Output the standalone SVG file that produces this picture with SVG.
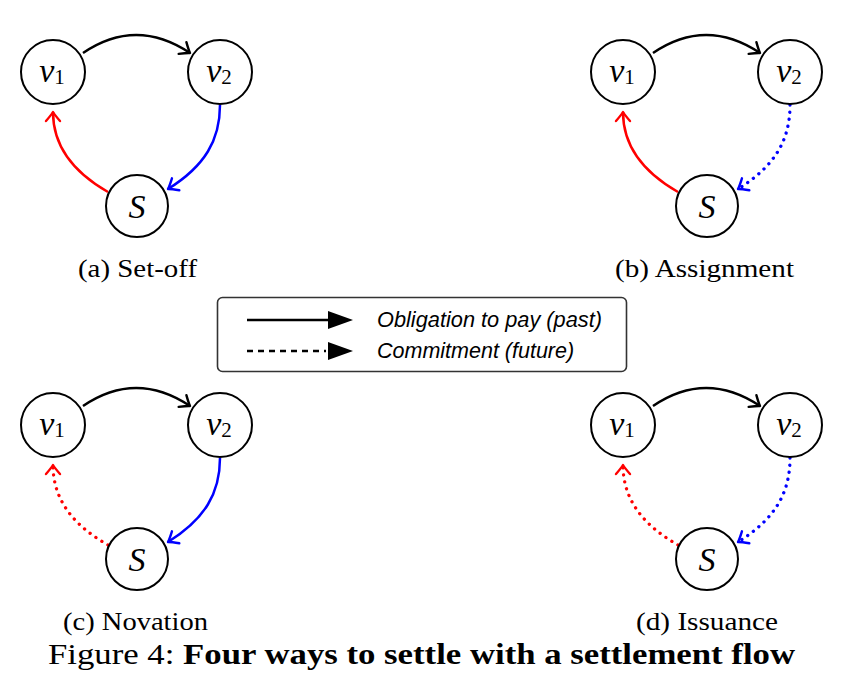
<svg xmlns="http://www.w3.org/2000/svg" width="844" height="696" viewBox="0 0 844 696">
<style>
.node circle{fill:#fff;stroke:#000;stroke-width:2}
.mv{font-family:"Liberation Serif",serif;font-style:italic;font-size:34px}
.sub{font-family:"Liberation Serif",serif;font-style:normal;font-size:21px}
.e{fill:none;stroke-width:2.5}
.dot{stroke-dasharray:0.1 7;stroke-linecap:round;stroke-width:3.3}
.k{stroke:#000}.r{stroke:#f00}.b{stroke:#00f}
.lbl{font-family:"Liberation Serif",serif;font-size:25px;fill:#000}
.leg{font-family:"Liberation Sans",Arial,sans-serif;font-style:italic;font-size:21.5px;fill:#000}
</style>
<defs>
<marker id="ak" markerUnits="userSpaceOnUse" viewBox="-12 -10 14 20" refX="0" refY="0" markerWidth="14" markerHeight="20" orient="auto" overflow="visible"><path d="M-9 -7 Q-3 -1.8 0 0 Q-3 1.8 -9 7" fill="none" stroke="#000" stroke-width="2.4" stroke-linecap="round" stroke-linejoin="round"/></marker>
<marker id="ar" markerUnits="userSpaceOnUse" viewBox="-12 -10 14 20" refX="0" refY="0" markerWidth="14" markerHeight="20" orient="auto" overflow="visible"><path d="M-9 -7 Q-3 -1.8 0 0 Q-3 1.8 -9 7" fill="none" stroke="#f00" stroke-width="2.4" stroke-linecap="round" stroke-linejoin="round"/></marker>
<marker id="ab" markerUnits="userSpaceOnUse" viewBox="-12 -10 14 20" refX="0" refY="0" markerWidth="14" markerHeight="20" orient="auto" overflow="visible"><path d="M-9 -7 Q-3 -1.8 0 0 Q-3 1.8 -9 7" fill="none" stroke="#00f" stroke-width="2.4" stroke-linecap="round" stroke-linejoin="round"/></marker>
</defs>
<rect width="844" height="696" fill="#fff"/>

<!-- connectors -->
<g id="connectors">
  <!-- (a) -->
  <path class="e k" d="M83 53 Q136 17 190 53" marker-end="url(#ak)"/>
  <path class="e b" d="M220 105 C220 140 205 166 168 189" marker-end="url(#ab)"/>
  <path class="e r" d="M108 192 C80 176 53 152 53 112" marker-end="url(#ar)"/>
  <!-- (b) -->
  <path class="e k" d="M653 53 Q706 17 760 53" marker-end="url(#ak)"/>
  <path class="e b dot" d="M790 105 C790 140 775 166 738 189" marker-end="url(#ab)"/>
  <path class="e r" d="M678 192 C650 176 623 152 623 112" marker-end="url(#ar)"/>
  <!-- (c) -->
  <path class="e k" d="M83 406 Q136 370 190 406" marker-end="url(#ak)"/>
  <path class="e b" d="M220 458 C220 493 205 519 168 542" marker-end="url(#ab)"/>
  <path class="e r dot" d="M108 545 C80 529 53 505 53 465" marker-end="url(#ar)"/>
  <!-- (d) -->
  <path class="e k" d="M653 406 Q706 370 760 406" marker-end="url(#ak)"/>
  <path class="e b dot" d="M790 458 C790 493 775 519 738 542" marker-end="url(#ab)"/>
  <path class="e r dot" d="M678 545 C650 529 623 505 623 465" marker-end="url(#ar)"/>
</g>

<!-- panel (a) -->
<g id="a-v1" class="node"><circle cx="53" cy="72" r="32"/><text x="52" y="82" text-anchor="middle"><tspan class="mv">v</tspan><tspan class="sub" dy="2">1</tspan></text></g>
<g id="a-v2" class="node"><circle cx="220" cy="72" r="32"/><text x="219" y="82" text-anchor="middle"><tspan class="mv">v</tspan><tspan class="sub" dy="2">2</tspan></text></g>
<g id="a-S" class="node"><circle cx="137" cy="206" r="31"/><text x="137" y="218" text-anchor="middle" class="mv">S</text></g>
<text class="lbl" x="137.5" y="277" text-anchor="middle" textLength="119" lengthAdjust="spacingAndGlyphs">(a) Set-off</text>

<!-- panel (b) -->
<g id="b-v1" class="node"><circle cx="623" cy="72" r="32"/><text x="622" y="82" text-anchor="middle"><tspan class="mv">v</tspan><tspan class="sub" dy="2">1</tspan></text></g>
<g id="b-v2" class="node"><circle cx="790" cy="72" r="32"/><text x="789" y="82" text-anchor="middle"><tspan class="mv">v</tspan><tspan class="sub" dy="2">2</tspan></text></g>
<g id="b-S" class="node"><circle cx="707" cy="206" r="31"/><text x="707" y="218" text-anchor="middle" class="mv">S</text></g>
<text class="lbl" x="704.5" y="277" text-anchor="middle" textLength="179" lengthAdjust="spacingAndGlyphs">(b) Assignment</text>

<!-- legend -->
<g id="legend">
  <rect x="217.5" y="297.5" width="409" height="74" rx="5" fill="#fff" stroke="#333" stroke-width="1.6"/>
  <line x1="247" y1="320" x2="330" y2="320" stroke="#000" stroke-width="2.5"/>
  <polygon points="328,311 353,320 328,329" fill="#000"/>
  <line x1="247" y1="351" x2="326" y2="351" stroke="#000" stroke-width="2.5" stroke-dasharray="6 5"/>
  <polygon points="328,342 353,351 328,360" fill="#000"/>
  <text class="leg" x="377" y="327" textLength="225" lengthAdjust="spacingAndGlyphs">Obligation to pay (past)</text>
  <text class="leg" x="377" y="358">Commitment (future)</text>
</g>

<!-- panel (c) -->
<g id="c-v1" class="node"><circle cx="53" cy="425" r="32"/><text x="52" y="435" text-anchor="middle"><tspan class="mv">v</tspan><tspan class="sub" dy="2">1</tspan></text></g>
<g id="c-v2" class="node"><circle cx="220" cy="425" r="32"/><text x="219" y="435" text-anchor="middle"><tspan class="mv">v</tspan><tspan class="sub" dy="2">2</tspan></text></g>
<g id="c-S" class="node"><circle cx="137" cy="559" r="31"/><text x="137" y="571" text-anchor="middle" class="mv">S</text></g>
<text class="lbl" x="135.5" y="630" text-anchor="middle" textLength="145" lengthAdjust="spacingAndGlyphs">(c) Novation</text>

<!-- panel (d) -->
<g id="d-v1" class="node"><circle cx="623" cy="425" r="32"/><text x="622" y="435" text-anchor="middle"><tspan class="mv">v</tspan><tspan class="sub" dy="2">1</tspan></text></g>
<g id="d-v2" class="node"><circle cx="790" cy="425" r="32"/><text x="789" y="435" text-anchor="middle"><tspan class="mv">v</tspan><tspan class="sub" dy="2">2</tspan></text></g>
<g id="d-S" class="node"><circle cx="707" cy="559" r="31"/><text x="707" y="571" text-anchor="middle" class="mv">S</text></g>
<text class="lbl" x="707" y="630" text-anchor="middle" textLength="142" lengthAdjust="spacingAndGlyphs">(d) Issuance</text>

<!-- caption -->
<text x="48" y="664" font-family="'Liberation Serif',serif" font-size="30" textLength="747" lengthAdjust="spacingAndGlyphs">Figure 4: <tspan font-weight="bold">Four ways to settle with a settlement flow</tspan></text>
</svg>
